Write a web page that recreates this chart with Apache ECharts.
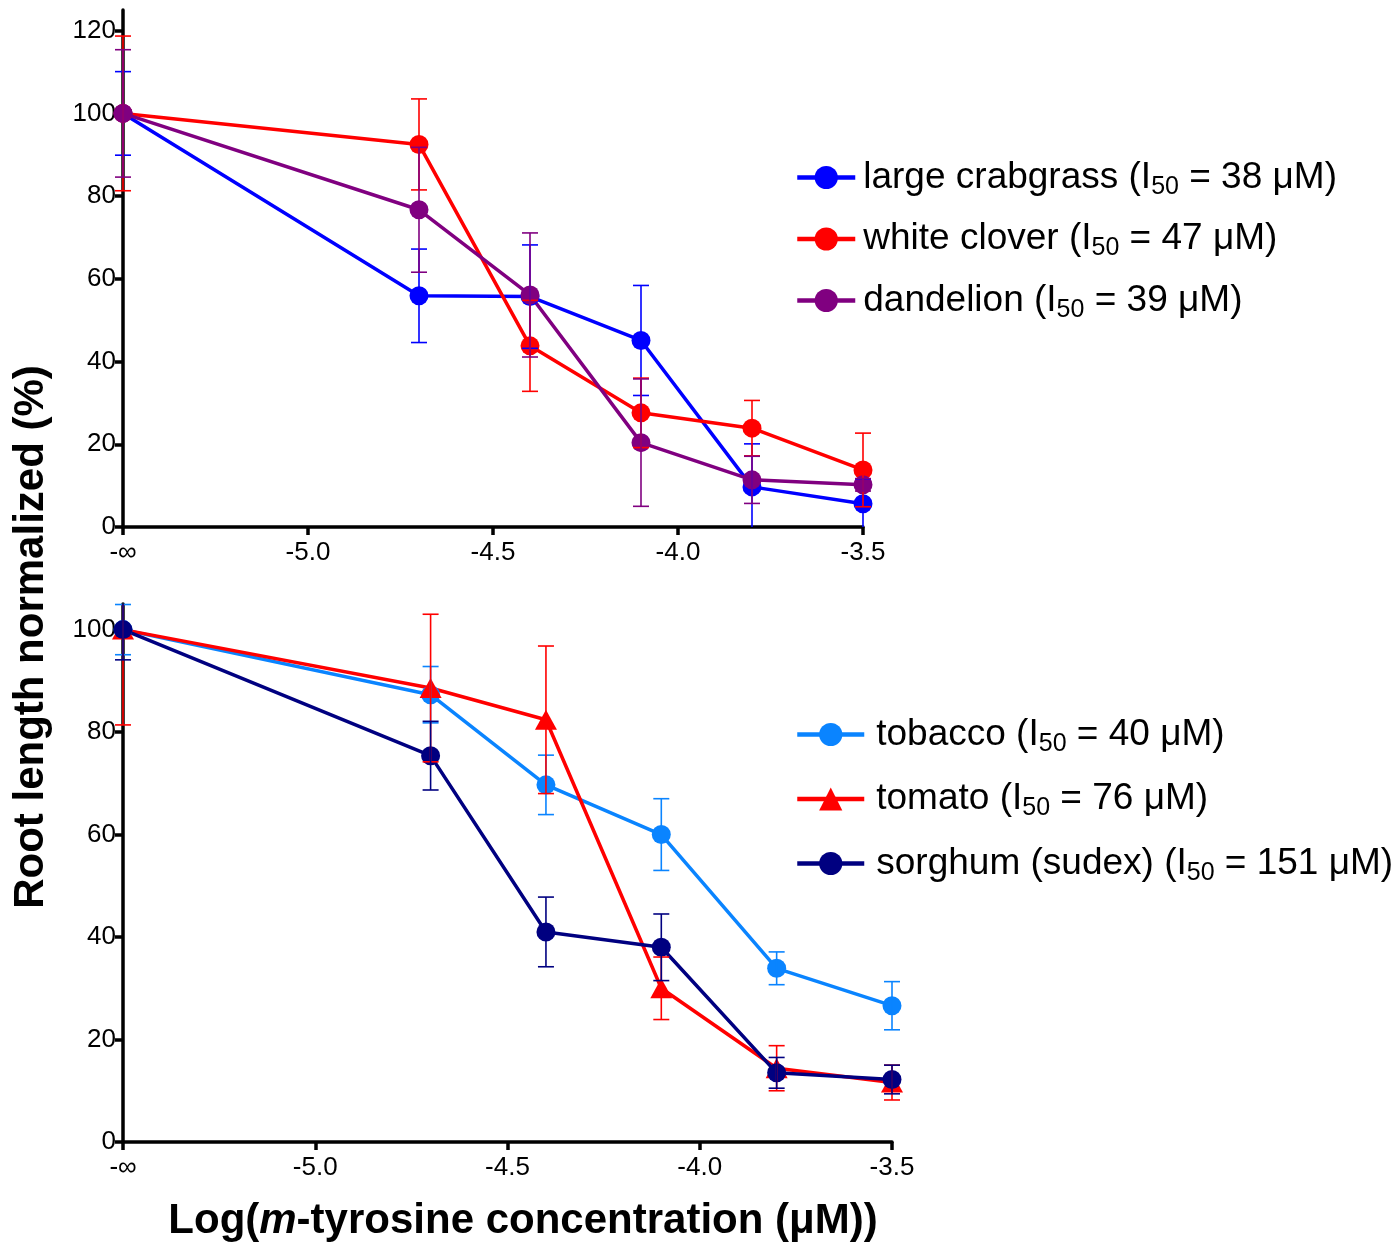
<!DOCTYPE html>
<html>
<head>
<meta charset="utf-8">
<script src="https://cdn.jsdelivr.net/npm/echarts@6/dist/echarts.min.js"></script>
<style>
  html, body { margin: 0; padding: 0; background: #ffffff; }
  #chart { width: 1400px; height: 1245px; }
</style>
</head>
<body>
<div id="chart"></div>
<script>
// Log10 of m-tyrosine concentration (M); -5.5 is where the untreated control (-∞) sits
const logConc = [-5.5, -4.7, -4.4, -4.1, -3.8, -3.5];
const xTickValues = [-5.5, -5.0, -4.5, -4.0, -3.5];
const xTickLabels = ['-\u221E', '-5.0', '-4.5', '-4.0', '-3.5'];
const yTicksTop = [0, 20, 40, 60, 80, 100, 120];
const yTicksBottom = [0, 20, 40, 60, 80, 100];

// Upper panel: root length normalized (%) and error
const crabgrass = [100, 55.9, 55.7, 45.1, 9.7, 5.6];
const crabgrassErr = [10.1, 11.3, 12.5, 13.3, 10.4, 6.0];
const clover = [100, 92.5, 43.8, 27.6, 23.9, 13.8];
const cloverErr = [18.7, 11.0, 11.0, 8.4, 6.7, 8.9];
const dandelion = [100, 76.7, 56.1, 20.4, 11.4, 10.2];
const dandelionErr = [15.4, 15.1, 15.0, 15.4, 5.7, 1.5];

// Lower panel
const tobacco = [100, 87.3, 69.7, 60.0, 33.9, 26.6];
const tobaccoErr = [4.9, 5.5, 5.8, 7.0, 3.2, 4.7];
const tomato = [100, 88.6, 82.4, 30.0, 14.4, 11.6];
const tomatoErr = [18.6, 14.4, 14.4, 6.1, 4.4, 3.4];
const sorghum = [100, 75.4, 41.0, 38.0, 13.5, 12.2];
const sorghumErr = [5.9, 6.7, 6.8, 6.5, 3.0, 2.8];

// Species names and their I50 values (µM)
const topNames = ['large crabgrass', 'white clover', 'dandelion'];
const topI50 = [38, 47, 39];
const bottomNames = ['tobacco', 'tomato', 'sorghum (sudex)'];
const bottomI50 = [40, 76, 151];

const FONT = '"Liberation Sans", Arial, Helvetica, sans-serif';
const TOP_MAX = 125;
const BOTTOM_MAX = 105;

function pairs(values) {
  return logConc.map((x, i) => [x, values[i]]);
}
function triples(values, errs) {
  return logConc.map((x, i) => [x, values[i], errs[i]]);
}

function lineSeries(name, color, values, symbol, size, axisIndex) {
  return {
    type: 'line',
    name: name,
    xAxisIndex: axisIndex,
    yAxisIndex: axisIndex,
    data: pairs(values),
    symbol: symbol,
    symbolSize: size,
    clip: false,
    z: 2,
    lineStyle: { color: color, width: 3.5 },
    itemStyle: { color: color },
    emphasis: { disabled: true }
  };
}

// Vertical error bars with caps, cut at the axis range like the plot frame
function errorSeries(color, values, errs, axisIndex, yMax) {
  return {
    type: 'custom',
    xAxisIndex: axisIndex,
    yAxisIndex: axisIndex,
    data: triples(values, errs),
    encode: { x: 0, y: 1 },
    z: 3,
    silent: true,
    renderItem: function (params, api) {
      const x = api.value(0), m = api.value(1), e = api.value(2);
      const lo = Math.max(m - e, 0);
      const hi = Math.min(m + e, yMax);
      const pLo = api.coord([x, lo]);
      const pHi = api.coord([x, hi]);
      const half = 8;
      const style = { stroke: color, lineWidth: 1.6 };
      const children = [{
        type: 'line',
        shape: { x1: pLo[0], y1: pHi[1], x2: pLo[0], y2: pLo[1] },
        style: style
      }];
      if (m + e <= yMax) {
        children.push({ type: 'line', shape: { x1: pHi[0] - half, y1: pHi[1], x2: pHi[0] + half, y2: pHi[1] }, style: style });
      }
      if (m - e >= 0) {
        children.push({ type: 'line', shape: { x1: pLo[0] - half, y1: pLo[1], x2: pLo[0] + half, y2: pLo[1] }, style: style });
      }
      return { type: 'group', children: children };
    }
  };
}

function xAxis(gridIndex) {
  return {
    type: 'value',
    gridIndex: gridIndex,
    min: -5.5,
    max: -3.5,
    interval: 0.5,
    splitLine: { show: false },
    axisLine: { lineStyle: { color: '#000', width: 3.5 } },
    axisTick: { length: 8, lineStyle: { color: '#000', width: 3.5 } },
    axisLabel: {
      color: '#000', fontSize: 26, fontFamily: FONT, margin: 13,
      formatter: function (v) {
        const k = xTickValues.findIndex(t => Math.abs(t - v) < 1e-9);
        return k >= 0 ? xTickLabels[k] : '';
      }
    }
  };
}

function yAxis(gridIndex, max, ticks) {
  return {
    type: 'value',
    gridIndex: gridIndex,
    min: 0,
    max: max,
    splitLine: { show: false },
    axisLine: { lineStyle: { color: '#000', width: 3.5 } },
    axisTick: { length: 8, customValues: ticks, lineStyle: { color: '#000', width: 3.5 } },
    axisLabel: { color: '#000', fontSize: 26, fontFamily: FONT, margin: 7, customValues: ticks }
  };
}

function legendLabel(names, i50) {
  return function (name) {
    const k = names.indexOf(name);
    return '{t|' + name + ' (I}{s|50}{t| = ' + i50[k] + ' \u03BCM)}';
  };
}

function legend(names, i50, left, top, width, gap, pad) {
  return {
    data: names,
    orient: 'vertical',
    left: left,
    top: top,
    itemWidth: width,
    itemHeight: 29,
    itemGap: gap,
    selectedMode: false,
    lineStyle: { width: 4.5 },
    formatter: legendLabel(names, i50),
    textStyle: {
      color: '#000',
      fontFamily: FONT,
      fontSize: 37,
      padding: [0, 0, 0, pad],
      rich: {
        t: { color: '#000', fontFamily: FONT, fontSize: 37, lineHeight: 44 },
        s: { color: '#000', fontFamily: FONT, fontSize: 25, lineHeight: 20, verticalAlign: 'bottom' }
      }
    }
  };
}

const chart = echarts.init(document.getElementById('chart'), null, { renderer: 'canvas' });

chart.setOption({
  animation: false,
  backgroundColor: '#ffffff',
  grid: [
    { left: 123, top: 10, width: 740, height: 517, outerBoundsMode: 'none' },
    { left: 123, top: 604, width: 769, height: 538, outerBoundsMode: 'none' }
  ],
  xAxis: [xAxis(0), xAxis(1)],
  yAxis: [yAxis(0, TOP_MAX, yTicksTop), yAxis(1, BOTTOM_MAX, yTicksBottom)],
  legend: [
    legend(topNames, topI50, 790, 154, 58, 21, 3),
    legend(bottomNames, bottomI50, 790, 711, 67, 24, 7)
  ],
  series: [
    lineSeries(topNames[0], '#0000ff', crabgrass, 'circle', 19, 0),
    lineSeries(topNames[1], '#ff0000', clover, 'circle', 19, 0),
    lineSeries(topNames[2], '#800080', dandelion, 'circle', 19, 0),
    errorSeries('#0000ff', crabgrass, crabgrassErr, 0, TOP_MAX),
    errorSeries('#ff0000', clover, cloverErr, 0, TOP_MAX),
    errorSeries('#800080', dandelion, dandelionErr, 0, TOP_MAX),

    lineSeries(bottomNames[0], '#0a84ff', tobacco, 'circle', 19, 1),
    lineSeries(bottomNames[1], '#ff0000', tomato, 'triangle', [22, 20], 1),
    lineSeries(bottomNames[2], '#000080', sorghum, 'circle', 19, 1),
    errorSeries('#0a84ff', tobacco, tobaccoErr, 1, BOTTOM_MAX),
    errorSeries('#ff0000', tomato, tomatoErr, 1, BOTTOM_MAX),
    errorSeries('#000080', sorghum, sorghumErr, 1, BOTTOM_MAX)
  ],
  graphic: [
    {
      type: 'text',
      x: 31,
      y: 637,
      rotation: Math.PI / 2,
      style: {
        text: 'Root length normalized (%)',
        font: 'bold 42px ' + FONT,
        fill: '#000',
        textAlign: 'center',
        textVerticalAlign: 'middle'
      }
    },
    {
      type: 'text',
      x: 523,
      y: 1221,
      style: {
        rich: {
          b: { font: 'bold 42px ' + FONT, fill: '#000' },
          i: { font: 'italic bold 42px ' + FONT, fill: '#000' }
        },
        text: '{b|Log(}{i|m}{b|-tyrosine concentration (\u03BCM))}',
        textAlign: 'center',
        textVerticalAlign: 'middle'
      }
    }
  ]
});
</script>
</body>
</html>
